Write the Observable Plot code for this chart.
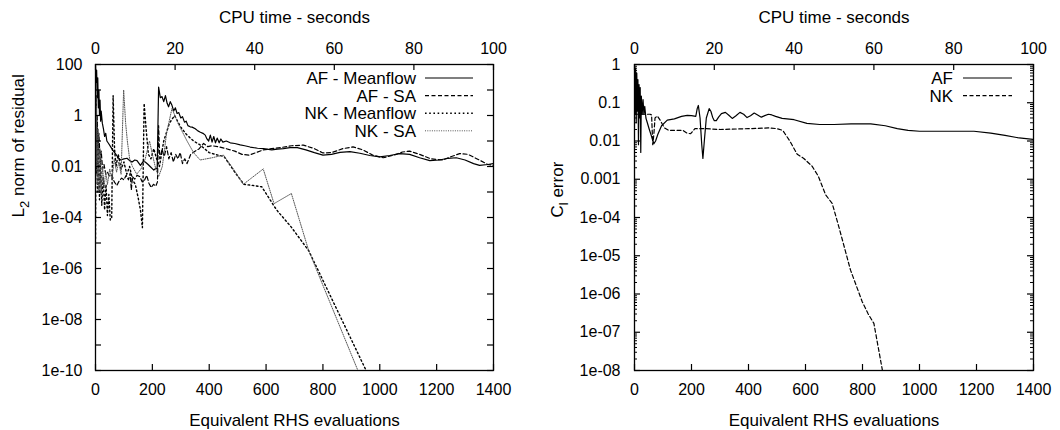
<!DOCTYPE html>
<html><head><meta charset="utf-8">
<script src="https://cdn.jsdelivr.net/npm/d3@7"></script>
<script src="https://cdn.jsdelivr.net/npm/@observablehq/plot@0.6"></script>
<style>
body{margin:0;background:#fff;}
#wrap{display:flex;width:1060px;height:430px;}
.panel{position:relative;width:530px;height:430px;}
.legend{position:absolute;left:0;top:0;pointer-events:none;}
</style></head><body>
<div id="wrap"><div class="panel" id="left"></div><div class="panel" id="right"></div></div>
<script>
// ---------- axis ticks / labels ----------
const rhsTicks = [0, 200, 400, 600, 800, 1000, 1200, 1400];
const cpuTicks = [0, 20, 40, 60, 80, 100];
const rhsPerCpuSecond = 14;             // 100 s of CPU time = 1400 RHS evaluations
const leftDecades = [100, 10, 1, 0.1, 0.01, 1e-3, 1e-4, 1e-5, 1e-6, 1e-7, 1e-8, 1e-9, 1e-10];
const leftDecadeLabels = ["100", "", "1", "", "0.01", "", "1e-04", "", "1e-06", "", "1e-08", "", "1e-10"];
const rightDecades = [1, 0.1, 0.01, 1e-3, 1e-4, 1e-5, 1e-6, 1e-7, 1e-8];
const rightDecadeLabels = ["1", "0.1", "0.01", "0.001", "1e-04", "1e-05", "1e-06", "1e-07", "1e-08"];
const xTitle = "Equivalent RHS evaluations";
const topTitle = "CPU time - seconds";

// ---------- left panel: L2 norm of residual ----------
const leftNames = ["AF - Meanflow", "AF - SA", "NK - Meanflow", "NK - SA"];
const afMeanflowResidual = [[0,90],[2,20],[4,60],[6,5],[8,30],[10,2],[12,10],[14,1],[16,4],[18,0.6],[20,1.5],[24,0.5],[28,0.3],[32,0.15],[36,0.2],[40,0.1],[46,0.08],[53,0.06],[60,0.045],[70,0.032],[80,0.022],[88,0.018],[100,0.02],[111,0.021],[120,0.017],[129,0.015],[138,0.018],[146,0.017],[158,0.011],[168,0.016],[175,0.015],[185,0.012],[193,0.0098],[205,0.0072],[212,0.0085],[217,0.0083],[222,13],[228,5],[234,5.5],[240,3.5],[246,6],[252,3],[257,2.2],[263,3.5],[269,2.5],[275,1.5],[281,2],[287,1.2],[293,1.3],[300,0.8],[306,0.9],[313,0.55],[319,0.6],[325,0.4],[333,0.36],[340,0.35],[351,0.3],[360,0.25],[369,0.22],[378,0.2],[386,0.17],[392,0.12],[398,0.1],[404,0.17],[410,0.09],[416,0.15],[422,0.085],[428,0.13],[435,0.085],[441,0.12],[448,0.09],[460,0.1],[474,0.085],[490,0.08],[509,0.07],[525,0.065],[544,0.058],[570,0.052],[591,0.05],[620,0.045],[640,0.048],[661,0.05],[684,0.055],[710,0.055],[740,0.045],[770,0.035],[800,0.028],[830,0.03],[860,0.036],[895,0.038],[930,0.033],[965,0.027],[1000,0.024],[1035,0.027],[1070,0.032],[1105,0.03],[1140,0.022],[1176,0.017],[1210,0.018],[1240,0.021],[1269,0.022],[1300,0.018],[1330,0.013],[1351,0.011],[1380,0.012],[1400,0.013]];
const afSAResidual = [[0,3],[3,0.3],[6,1],[9,0.05],[12,0.2],[16,0.02],[20,0.04],[25,0.008],[30,0.012],[36,0.005],[42,0.006],[50,0.004],[58,0.0045],[66,0.0025],[75,0.0018],[84,0.0028],[92,0.0035],[100,0.003],[108,0.0045],[116,0.003],[122,0.0055],[126,0.0012],[130,0.004],[138,0.0032],[146,0.0045],[156,0.004],[164,0.0025],[172,0.0028],[180,0.0045],[188,0.0022],[196,0.0015],[204,0.002],[212,0.0017],[218,0.0025],[222,0.4],[226,0.02],[234,0.045],[242,0.025],[250,0.06],[258,0.02],[266,0.035],[274,0.015],[282,0.03],[290,0.02],[298,0.035],[306,0.013],[314,0.02],[322,0.013],[335,0.03],[350,0.04],[365,0.05],[380,0.08],[395,0.06],[410,0.065],[430,0.06],[460,0.05],[490,0.04],[515,0.03],[540,0.028],[565,0.035],[590,0.045],[620,0.05],[650,0.055],[690,0.065],[731,0.069],[770,0.05],[800,0.034],[830,0.035],[870,0.05],[906,0.059],[940,0.045],[975,0.028],[1012,0.022],[1050,0.028],[1080,0.037],[1105,0.04],[1140,0.03],[1180,0.02],[1222,0.018],[1250,0.024],[1281,0.032],[1310,0.03],[1350,0.018],[1380,0.012],[1400,0.011]];
const nkMeanflowResidual = [[0,1.5e-5],[2,6],[4,0.005],[6,0.5],[8,0.001],[11,0.08],[14,0.0005],[18,0.02],[22,0.0003],[27,0.004],[32,0.0002],[37,0.002],[42,0.00012],[47,0.0008],[52,0.00008],[57,0.0001],[62,6],[67,0.05],[72,0.01],[80,0.03],[90,0.008],[100,0.015],[110,0.005],[120,0.01],[130,0.003],[140,0.002],[150,0.0006],[158,0.0002],[165,0.00004],[171,3],[178,0.3],[186,0.03],[195,0.02],[205,0.05],[215,0.02],[225,0.01],[240,0.1],[260,0.5],[278,1],[300,0.35],[320,0.18],[345,0.1],[368,0.07],[400,0.035],[430,0.028],[452,0.025],[490,0.006],[522,0.002],[555,0.0018],[585,0.0016],[630,2.6e-4],[642,1.7e-4],[688,4.3e-5],[750,5e-6],[952,1e-10]];
const nkSAResidual = [[0,5],[2,0.01],[4,2],[6,0.002],[9,0.3],[12,0.001],[16,0.05],[20,0.0008],[25,0.01],[30,0.0015],[36,0.006],[42,0.002],[50,0.008],[58,0.003],[66,0.02],[74,0.006],[82,0.015],[90,0.005],[99,10],[106,0.5],[112,0.1],[120,0.02],[130,0.01],[145,0.005],[160,0.008],[175,0.02],[190,0.1],[200,0.03],[212,0.008],[222,0.004],[235,0.01],[250,0.2],[269,1.9],[290,0.5],[322,0.1],[345,0.035],[368,0.018],[410,0.022],[450,0.028],[485,0.008],[520,0.002],[590,0.008],[628,3.5e-4],[689,8.7e-4],[750,5e-6],[923,1e-10]];

// ---------- right panel: Cl error ----------
const rightNames = ["AF", "NK"];
const afClError = [[0,1],[2,0.05],[4,0.8],[6,0.03],[8,0.6],[10,0.06],[12,0.4],[14,0.008],[16,0.3],[18,0.04],[20,0.25],[22,0.005],[24,0.15],[27,0.05],[30,0.12],[33,0.05],[36,0.08],[40,0.04],[45,0.03],[52,0.02],[60,0.013],[68,0.0085],[74,0.01],[82,0.015],[95,0.025],[115,0.035],[140,0.038],[165,0.044],[185,0.047],[200,0.046],[215,0.044],[220,0.07],[224,0.085],[230,0.04],[236,0.008],[240,0.0035],[245,0.01],[252,0.04],[262,0.07],[268,0.06],[274,0.042],[280,0.034],[287,0.034],[295,0.042],[305,0.052],[319,0.056],[330,0.048],[343,0.039],[355,0.045],[370,0.056],[383,0.05],[395,0.041],[407,0.046],[420,0.054],[432,0.048],[445,0.042],[457,0.046],[470,0.05],[482,0.048],[495,0.044],[518,0.039],[560,0.036],[605,0.029],[650,0.027],[700,0.027],[760,0.028],[829,0.028],[880,0.025],[922,0.021],[960,0.019],[1000,0.018],[1100,0.018],[1191,0.018],[1250,0.016],[1300,0.014],[1350,0.012],[1400,0.011]];
const nkClError = [[0,0.05],[20,0.05],[40,0.05],[55,0.05],[60,0.048],[64,0.008],[68,0.015],[72,0.04],[80,0.045],[90,0.035],[105,0.022],[120,0.019],[150,0.019],[170,0.019],[185,0.016],[197,0.0155],[212,0.021],[250,0.021],[300,0.02],[400,0.021],[470,0.022],[500,0.021],[520,0.019],[545,0.01],[571,0.0045],[594,0.0035],[623,0.0022],[645,0.0012],[670,4e-4],[694,2.3e-4],[717,5.7e-5],[758,4.2e-6],[799,6.3e-7],[820,3e-7],[840,1.7e-7],[870,1e-8]];

// ---------- styles ----------
const FONT = "'Liberation Sans', Arial, Helvetica, sans-serif";
const styles = {
  solid:  {stroke: "#000", strokeWidth: 1.2, dash: null},
  dashed: {stroke: "#000", strokeWidth: 1.2, dash: "4,2.5"},
  dotted: {stroke: "#000", strokeWidth: 1.4, dash: "1.6,2.6"},
  fine:   {stroke: "#555", strokeWidth: 1.0, dash: "1,1.3"}
};

function panel(el, o) {
  const W = 530, H = 430, mT = 64, mB = 60;
  const fw = W - o.mL - o.mR, fh = H - mT - mB;
  const yLab = new Map(o.decades.map((d, i) => [d, o.decadeLabels[i]]));
  const cpuLab = new Map(cpuTicks.map(t => [t * rhsPerCpuSecond, String(t)]));
  const marks = [];
  o.series.forEach(s => {
    const st = styles[s.style];
    marks.push(Plot.line(s.data, {x: d => d[0], y: d => d[1], stroke: st.stroke, strokeWidth: st.strokeWidth,
      strokeDasharray: st.dash || undefined, clip: true}));
  });
  marks.push(
    Plot.frame({stroke: "#000", strokeWidth: 1.3}),
    // inward ticks
    Plot.tickX(rhsTicks, {x: d => d, insetTop: fh - 6, stroke: "#000", strokeWidth: 1.2}),
    Plot.tickX(cpuTicks.map(t => t * rhsPerCpuSecond), {x: d => d, insetBottom: fh - 6, stroke: "#000", strokeWidth: 1.2}),
    Plot.tickY(o.decades, {y: d => d, insetRight: fw - 6, stroke: "#000", strokeWidth: 1.2}),
    Plot.tickY(o.decades, {y: d => d, insetLeft: fw - 6, stroke: "#000", strokeWidth: 1.2}),
    // labels
    Plot.axisX(rhsTicks, {anchor: "bottom", tickSize: 0, tickPadding: 13, label: null, fontSize: 16, tickFormat: d => String(d)}),
    Plot.axisX(cpuTicks.map(t => t * rhsPerCpuSecond), {anchor: "top", tickSize: 0, tickPadding: 11, label: null, fontSize: 16, tickFormat: d => cpuLab.get(d)}),
    Plot.axisY(o.decades, {anchor: "left", tickSize: 0, tickPadding: o.yPad, label: null, fontSize: 16, tickFormat: d => yLab.get(d)}),
    Plot.text([topTitle], {frameAnchor: "top", text: d => d, dy: -42, lineAnchor: "bottom", fontSize: 17}),
    Plot.text([xTitle], {frameAnchor: "bottom", text: d => d, dy: 55, lineAnchor: "bottom", fontSize: 17}),
    Plot.text([o.ylabel], {frameAnchor: "left", text: d => d, rotate: -90, dx: -77, fontSize: 17})
  );
  if (o.minor) {
    marks.push(
      Plot.tickY(o.minor, {y: d => d, insetRight: fw - 3, stroke: "#000", strokeWidth: 1}),
      Plot.tickY(o.minor, {y: d => d, insetLeft: fw - 3, stroke: "#000", strokeWidth: 1})
    );
  }
  const svg = Plot.plot({
    width: W, height: H, marginLeft: o.mL, marginRight: o.mR, marginTop: mT, marginBottom: mB,
    x: {type: "linear", domain: [0, 1400]},
    y: {type: "log", domain: o.yDomain},
    style: {fontFamily: FONT, fontSize: "16px", background: "#fff", color: "#000", overflow: "visible"},
    marks
  });
  // subscript in y title
  svg.querySelectorAll("text").forEach(t => {
    if (t.textContent === o.ylabel) {
      while (t.firstChild) t.removeChild(t.firstChild);
      const ns = "http://www.w3.org/2000/svg";
      o.ylabelParts.forEach(([s, sub], i) => {
        const ts = document.createElementNS(ns, "tspan");
        ts.textContent = s;
        if (sub) { ts.setAttribute("dy", "5"); ts.setAttribute("font-size", "13"); }
        else if (i > 0 && o.ylabelParts[i - 1][1]) ts.setAttribute("dy", "-5");
        t.appendChild(ts);
      });
    }
  });
  el.appendChild(svg);
  // legend (html overlay)
  const ns = "http://www.w3.org/2000/svg";
  const lg = document.createElementNS(ns, "svg");
  lg.setAttribute("width", W); lg.setAttribute("height", H); lg.setAttribute("class", "legend");
  o.series.forEach((s, i) => {
    const st = styles[s.style];
    const by = 84 + i * 17.6;
    const tx = document.createElementNS(ns, "text");
    tx.setAttribute("x", o.legTextX); tx.setAttribute("y", by);
    tx.setAttribute("text-anchor", "end"); tx.setAttribute("font-family", FONT); tx.setAttribute("font-size", "17");
    tx.textContent = s.name; lg.appendChild(tx);
    const ln = document.createElementNS(ns, "line");
    ln.setAttribute("x1", o.legLine[0]); ln.setAttribute("x2", o.legLine[1]);
    ln.setAttribute("y1", by - 6); ln.setAttribute("y2", by - 6);
    ln.setAttribute("stroke", st.stroke); ln.setAttribute("stroke-width", st.strokeWidth);
    if (st.dash) ln.setAttribute("stroke-dasharray", st.dash);
    lg.appendChild(ln);
  });
  el.appendChild(lg);
}

panel(document.getElementById("left"), {
  mL: 95, mR: 37, yPad: 13, yDomain: [1e-10, 100],
  decades: leftDecades, decadeLabels: leftDecadeLabels,
  ylabel: "L2 norm of residual", ylabelParts: [["L"], ["2", true], [" norm of residual"]],
  legTextX: 416, legLine: [425, 473],
  series: [
    {name: leftNames[0], data: afMeanflowResidual, style: "solid"},
    {name: leftNames[1], data: afSAResidual, style: "dashed"},
    {name: leftNames[2], data: nkMeanflowResidual, style: "dotted"},
    {name: leftNames[3], data: nkSAResidual, style: "fine"}
  ]
});

const rightMinor = [];
rightDecades.slice(1).forEach(d => { for (let k = 2; k <= 9; k++) rightMinor.push(k * d); });
panel(document.getElementById("right"), {
  mL: 104, mR: 27, yPad: 14, yDomain: [1e-8, 1],
  decades: rightDecades, decadeLabels: rightDecadeLabels, minor: rightMinor,
  ylabel: "Cl error", ylabelParts: [["C"], ["l", true], [" error"]],
  legTextX: 423, legLine: [433, 482],
  series: [
    {name: rightNames[0], data: afClError, style: "solid"},
    {name: rightNames[1], data: nkClError, style: "dashed"}
  ]
});
</script>
</body></html>
